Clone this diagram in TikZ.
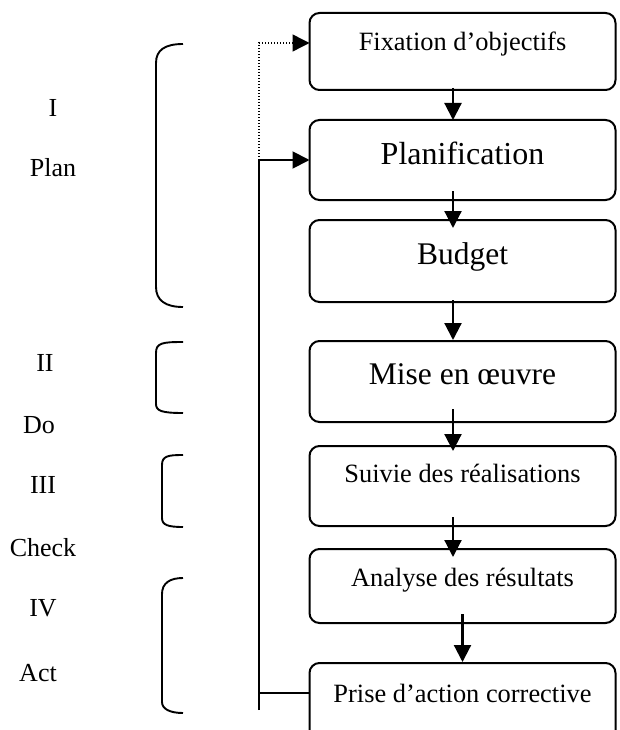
\documentclass[tikz,border=0pt]{standalone}
\usepackage{fontspec}
\setmainfont{Liberation Serif}
\usetikzlibrary{arrows.meta,calc}

\tikzset{
  stage/.style={draw, line width=2pt, rounded corners=10pt, inner sep=0pt,
    outer sep=0pt, minimum width=306pt, anchor=north, align=center},
  headtip/.style={-{Triangle[length=17pt,width=17pt]}},
  flow/.style={line width=2.2pt, headtip},
  loopline/.style={line width=1.7pt},
  looparrow/.style={line width=1.9pt, headtip},
  dotline/.style={line width=1.4pt, dash pattern=on 1.4pt off 1.6pt},
  bracket/.style={line width=1.9pt},
  phase/.style={inner sep=0pt, font=\fontsize{26}{30}\selectfont},
  small/.style={font=\fontsize{26.4}{30}\selectfont},
  large/.style={font=\fontsize{31.5}{36}\selectfont}
}

\begin{document}
\begin{tikzpicture}[x=1pt, y=-1pt]
  \useasboundingbox (0,0) rectangle (619,730);
  \clip (0,0) rectangle (619,730);
  \fill[white] (0,0) rectangle (619,730);

  % process boxes, top to bottom
  \node[stage, small, text height=37.8pt, text depth=39.2pt] (b1) at (462.5,13) {Fixation d’objectifs};
  \node[stage, font=\fontsize{32}{36}\selectfont, text height=44.6pt, text depth=35.4pt] (b2) at (462.5,120) {Planification};
  \node[stage, large, text height=44.3pt, text depth=37.7pt] (b3) at (462.5,220) {Budget};
  \node[stage, large, text height=43.5pt, text depth=37.5pt] (b4) at (462.5,341) {Mise en œuvre};
  \node[stage, small, text height=36.9pt, text depth=43.1pt] (b5) at (462.5,446) {Suivie des réalisations};
  \node[stage, small, text height=37.9pt, text depth=36.1pt] (b6) at (462.5,549) {Analyse des résultats};
  \node[stage, small, text height=39.9pt, text depth=42.1pt] (b7) at (462.5,663) {Prise d’action corrective};

  % downward links between successive boxes
  \draw[flow] ([xshift=-9.5pt,yshift=2pt]b1.south) -- ([xshift=-9.5pt]b2.north);
  \draw[flow] ([xshift=-9.5pt,yshift=9pt]b2.south) -- ([xshift=-9.5pt,yshift=-8pt]b3.north);
  \draw[flow] ([xshift=-9.5pt,yshift=2pt]b3.south) -- ([xshift=-9.5pt,yshift=1pt]b4.north);
  \draw[flow] ([xshift=-9.5pt,yshift=13pt]b4.south) -- ([xshift=-9.5pt,yshift=-5pt]b5.north);
  \draw[flow] ([xshift=-9.5pt,yshift=9pt]b5.south) -- ([xshift=-9.5pt,yshift=-8pt]b6.north);
  \draw[flow] ([yshift=9pt]b6.south) -- ([yshift=1pt]b7.north);

  % feedback loop on the left
  \coordinate (fbBot) at (259,710);
  \coordinate (fbJoin) at (259,693);
  \coordinate (fbMid) at (259,160);
  \coordinate (fbTop) at (259,43);
  \draw[loopline] (fbBot) -- (fbMid);
  \draw[loopline] (fbJoin) -- (fbJoin -| b7.west);
  \draw[looparrow] (fbMid) -- (b2.west);
  \draw[dotline, headtip] (fbMid) -- (fbTop) -- (fbTop -| b1.west);

  % phase brackets
  \draw[bracket] (183,44) .. controls (165,44) and (156,50) .. (156,63)
    -- (156,287) .. controls (156,300) and (165,307) .. (183,307);
  \draw[bracket] (183,342) .. controls (162,342) and (156,343) .. (156,353)
    -- (156,404) .. controls (156,411) and (162,413) .. (183,413);
  \draw[bracket] (183,455) .. controls (168,455) and (162,456) .. (162,465)
    -- (162,518) .. controls (162,525) and (168,527) .. (183,527);
  \draw[bracket] (183,578) .. controls (170,578) and (162,583) .. (162,594)
    -- (162,702) .. controls (162,709) and (170,713) .. (183,713);

  % phase labels
  \node[phase] (p1) at (53,108) {I};
  \node[phase] (p1n) at (53,168) {Plan};
  \node[phase] (p2) at (45,363) {II};
  \node[phase] (p2n) at (39,425) {Do};
  \node[phase] (p3) at (43,485) {III};
  \node[phase] (p3n) at (43,548) {Check};
  \node[phase] (p4) at (43,608) {IV};
  \node[phase] (p4n) at (38,673) {Act};
\end{tikzpicture}
\end{document}
